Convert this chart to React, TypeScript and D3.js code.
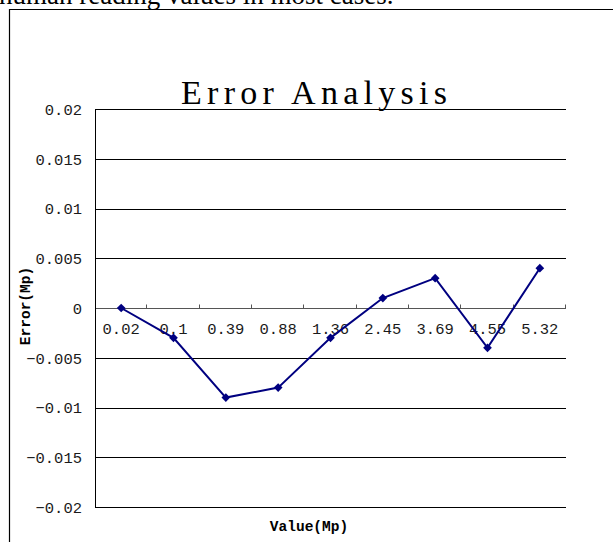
import React from "react";
import * as d3 from "d3";

const WIDTH = 613;
const HEIGHT = 542;
const PLOT = { left: 95, right: 566, top: 109, bottom: 507 };

// chart values
const categories = ["0.02", "0.1", "0.39", "0.88", "1.36", "2.45", "3.69", "4.55", "5.32"];
const errors = [0, -0.003, -0.009, -0.008, -0.003, 0.001, 0.003, -0.004, 0.004];
const yTicks = [0.02, 0.015, 0.01, 0.005, 0, -0.005, -0.01, -0.015, -0.02];
const yTickLabels = ["0.02", "0.015", "0.01", "0.005", "0", "−0.005", "−0.01", "−0.015", "−0.02"];

const TITLE = "Error Analysis";
const X_LABEL = "Value(Mp)";
const Y_LABEL = "Error(Mp)";
const CAPTION = "human reading values in most cases.";

const MONO = "'Liberation Mono', 'DejaVu Sans Mono', monospace";
const SERIF = "'Liberation Serif', 'DejaVu Serif', serif";
const LINE_COLOR = "#000080";

const App = () => {
  const xScale = d3
    .scaleBand<string>()
    .domain(categories)
    .range([PLOT.left, PLOT.right])
    .padding(0);

  const yScale = d3
    .scaleLinear()
    .domain([-0.02, 0.02])
    .range([PLOT.bottom, PLOT.top]);

  const cx = (c: string) => (xScale(c) ?? 0) + xScale.bandwidth() / 2;
  const crisp = (v: number) => Math.round(v) + 0.5;

  const line = d3
    .line<number>()
    .x((_, i) => cx(categories[i]))
    .y((d) => yScale(d));

  // square turned 45deg, like Excel's diamond marker
  const marker = d3.symbol().type(d3.symbolSquare).size(38);

  const zeroY = crisp(yScale(0));
  const boundaries = categories.map((c) => (xScale(c) ?? 0) + xScale.bandwidth());

  return (
    <svg
      width={WIDTH}
      height={HEIGHT}
      style={{ position: "absolute", left: 0, top: 0, background: "#fff" }}
    >
      <rect width={WIDTH} height={HEIGHT} fill="#fff" />

      {/* clipped text from the page above the figure */}
      <text x={-1} y={4} fontFamily={SERIF} fontSize={27} fill="#000">
        {CAPTION}
      </text>

      {/* outer chart frame (open to the right and bottom) */}
      <path d={`M9.5,${HEIGHT + 2}V9.5H${WIDTH + 2}`} fill="none" stroke="#000" strokeWidth={1.2} />

      {/* title */}
      <text
        x={314}
        y={104}
        textAnchor="middle"
        fontFamily={SERIF}
        fontSize={34}
        textLength={266}
        lengthAdjust="spacing"
        fill="#000"
      >
        {TITLE}
      </text>

      {/* gridlines */}
      {yTicks.map((t) => (
        <line
          key={t}
          x1={PLOT.left}
          x2={PLOT.right}
          y1={crisp(yScale(t))}
          y2={crisp(yScale(t))}
          stroke={t === 0 ? "#555" : "#000"}
          strokeWidth={1}
        />
      ))}

      {/* value axis */}
      <line
        x1={crisp(PLOT.left)}
        x2={crisp(PLOT.left)}
        y1={crisp(yScale(0.02))}
        y2={crisp(yScale(-0.02))}
        stroke="#000"
      />
      {yTicks.map((t, i) => (
        <text
          key={t}
          x={82}
          y={yScale(t)}
          dy="0.38em"
          textAnchor="end"
          fontFamily={MONO}
          fontSize={15.5}
          fill="#1a1a1a"
        >
          {yTickLabels[i]}
        </text>
      ))}

      {/* category axis ticks at zero */}
      {boundaries.map((bx, i) => (
        <line
          key={i}
          x1={crisp(bx) - 1}
          x2={crisp(bx) - 1}
          y1={zeroY}
          y2={zeroY - 4}
          stroke="#555"
        />
      ))}
      {categories.map((c) => (
        <text
          key={c}
          x={cx(c)}
          y={334}
          textAnchor="middle"
          fontFamily={MONO}
          fontSize={15.5}
          fill="#1a1a1a"
        >
          {c}
        </text>
      ))}

      {/* series */}
      <path d={line(errors) ?? ""} fill="none" stroke={LINE_COLOR} strokeWidth={2} />
      {errors.map((v, i) => (
        <path
          key={i}
          d={marker() ?? ""}
          transform={`translate(${cx(categories[i])},${yScale(v)}) rotate(45)`}
          fill={LINE_COLOR}
        />
      ))}

      {/* axis titles */}
      <text
        x={309}
        y={531}
        textAnchor="middle"
        fontFamily={MONO}
        fontWeight="bold"
        fontSize={14.5}
        fill="#000"
      >
        {X_LABEL}
      </text>
      <text
        transform="translate(30,306) rotate(-90)"
        textAnchor="middle"
        fontFamily={MONO}
        fontWeight="bold"
        fontSize={14.5}
        fill="#000"
      >
        {Y_LABEL}
      </text>
    </svg>
  );
};

export default App;
